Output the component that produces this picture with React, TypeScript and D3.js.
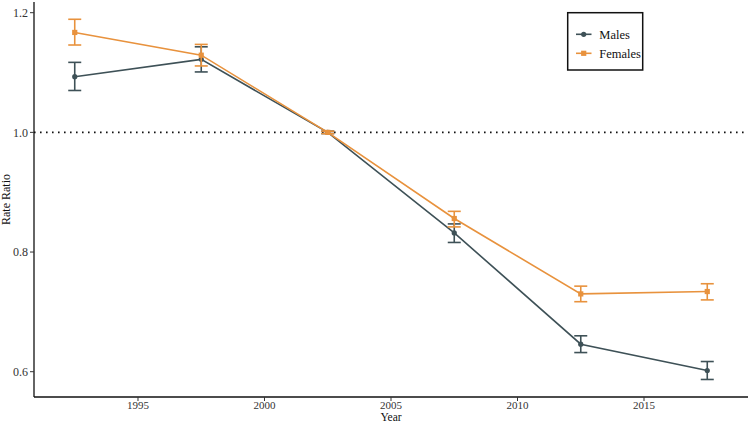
import React from "react";
import * as d3 from "d3";

const years = [1992.5, 1997.5, 2002.5, 2007.5, 2012.5, 2017.5];
const malesRR = [1.093, 1.122, 1.0, 0.832, 0.646, 0.602];
const malesLo = [1.07, 1.101, 0.998, 0.816, 0.632, 0.587];
const malesHi = [1.117, 1.143, 1.002, 0.847, 0.66, 0.617];
const femalesRR = [1.167, 1.129, 1.0, 0.856, 0.73, 0.734];
const femalesLo = [1.146, 1.111, 0.998, 0.842, 0.717, 0.72];
const femalesHi = [1.189, 1.147, 1.002, 0.868, 0.743, 0.747];
const xTicks = [1995, 2000, 2005, 2010, 2015];
const yTicks = [0.6, 0.8, 1.0, 1.2];
const seriesNames = ["Males", "Females"];
const colors = ["#3e5157", "#e8923d"];

const W = 750;
const H = 424;
const FONT = "Liberation Serif, Times New Roman, DejaVu Serif, serif";

export default function App() {
  const x = d3.scaleLinear().domain([1990.89, 2019.11]).range([34, 748]);
  const y = d3.scaleLinear().domain([0.6, 1.2]).range([371.7, 12.7]);
  const bottom = 397;
  const top = 2;

  const series = [
    { name: seriesNames[0], v: malesRR, lo: malesLo, hi: malesHi, color: colors[0], shape: "circle" },
    { name: seriesNames[1], v: femalesRR, lo: femalesLo, hi: femalesHi, color: colors[1], shape: "square" },
  ];

  const line = d3
    .line<number>()
    .x((_, i) => x(years[i]))
    .y((d) => y(d));

  const ts = { fontFamily: FONT };

  return (
    <svg
      width={W}
      height={H}
      style={{ position: "absolute", left: 0, top: 0, background: "#fff", fontFamily: FONT }}
    >
      <rect x={0} y={0} width={W} height={H} fill="#fff" />
      <line
        x1={34}
        x2={748}
        y1={y(1.0)}
        y2={y(1.0)}
        stroke="#111"
        strokeWidth={1.6}
        strokeDasharray="1.6,4.4"
      />
      {series.map((s) => (
        <g key={s.name}>
          <path d={line(s.v) || ""} fill="none" stroke={s.color} strokeWidth={1.6} />
          {years.map((yr, i) => {
            const cx = x(yr);
            return (
              <g key={i} stroke={s.color} strokeWidth={1.6}>
                <line x1={cx} x2={cx} y1={y(s.lo[i])} y2={y(s.hi[i])} />
                <line x1={cx - 6.5} x2={cx + 6.5} y1={y(s.lo[i])} y2={y(s.lo[i])} />
                <line x1={cx - 6.5} x2={cx + 6.5} y1={y(s.hi[i])} y2={y(s.hi[i])} />
                {s.shape === "circle" ? (
                  <circle cx={cx} cy={y(s.v[i])} r={2.6} fill={s.color} stroke="none" />
                ) : (
                  <rect x={cx - 2.6} y={y(s.v[i]) - 2.6} width={5.2} height={5.2} fill={s.color} stroke="none" />
                )}
              </g>
            );
          })}
        </g>
      ))}
      <line x1={34} x2={34} y1={top} y2={bottom} stroke="#111" strokeWidth={1.3} />
      <line x1={34} x2={748} y1={bottom} y2={bottom} stroke="#111" strokeWidth={1.3} />
      {yTicks.map((t) => (
        <g key={t}>
          <line x1={30} x2={34} y1={y(t)} y2={y(t)} stroke="#333" strokeWidth={1} />
          <text x={28} y={y(t)} dy="0.35em" textAnchor="end" fontSize={12} fill="#333" style={ts}>
            {t.toFixed(1)}
          </text>
        </g>
      ))}
      {xTicks.map((t) => (
        <g key={t}>
          <line x1={x(t)} x2={x(t)} y1={bottom} y2={bottom + 4} stroke="#333" strokeWidth={1} />
          <text x={x(t)} y={408.5} textAnchor="middle" fontSize={11} fill="#333" style={ts}>
            {t}
          </text>
        </g>
      ))}
      <text x={391} y={421} textAnchor="middle" fontSize={11.5} fill="#111" style={ts}>
        Year
      </text>
      <text
        transform={`translate(10, ${(top + bottom) / 2}) rotate(-90)`}
        textAnchor="middle"
        fontSize={12}
        fill="#111"
        style={ts}
      >
        Rate Ratio
      </text>
      <rect x={567.7} y={12.7} width={75} height={57.3} fill="#fff" stroke="#111" strokeWidth={1.5} />
      {series.map((s, i) => {
        const ly = 34.3 + i * 19;
        return (
          <g key={s.name}>
            <line x1={576} x2={591.5} y1={ly} y2={ly} stroke={s.color} strokeWidth={1.6} />
            {s.shape === "circle" ? (
              <circle cx={583.7} cy={ly} r={2.6} fill={s.color} />
            ) : (
              <rect x={583.7 - 2.6} y={ly - 2.6} width={5.2} height={5.2} fill={s.color} />
            )}
            <text x={599.3} y={ly} dy="0.35em" fontSize={12.5} fill="#111" style={ts}>
              {s.name}
            </text>
          </g>
        );
      })}
    </svg>
  );
}
